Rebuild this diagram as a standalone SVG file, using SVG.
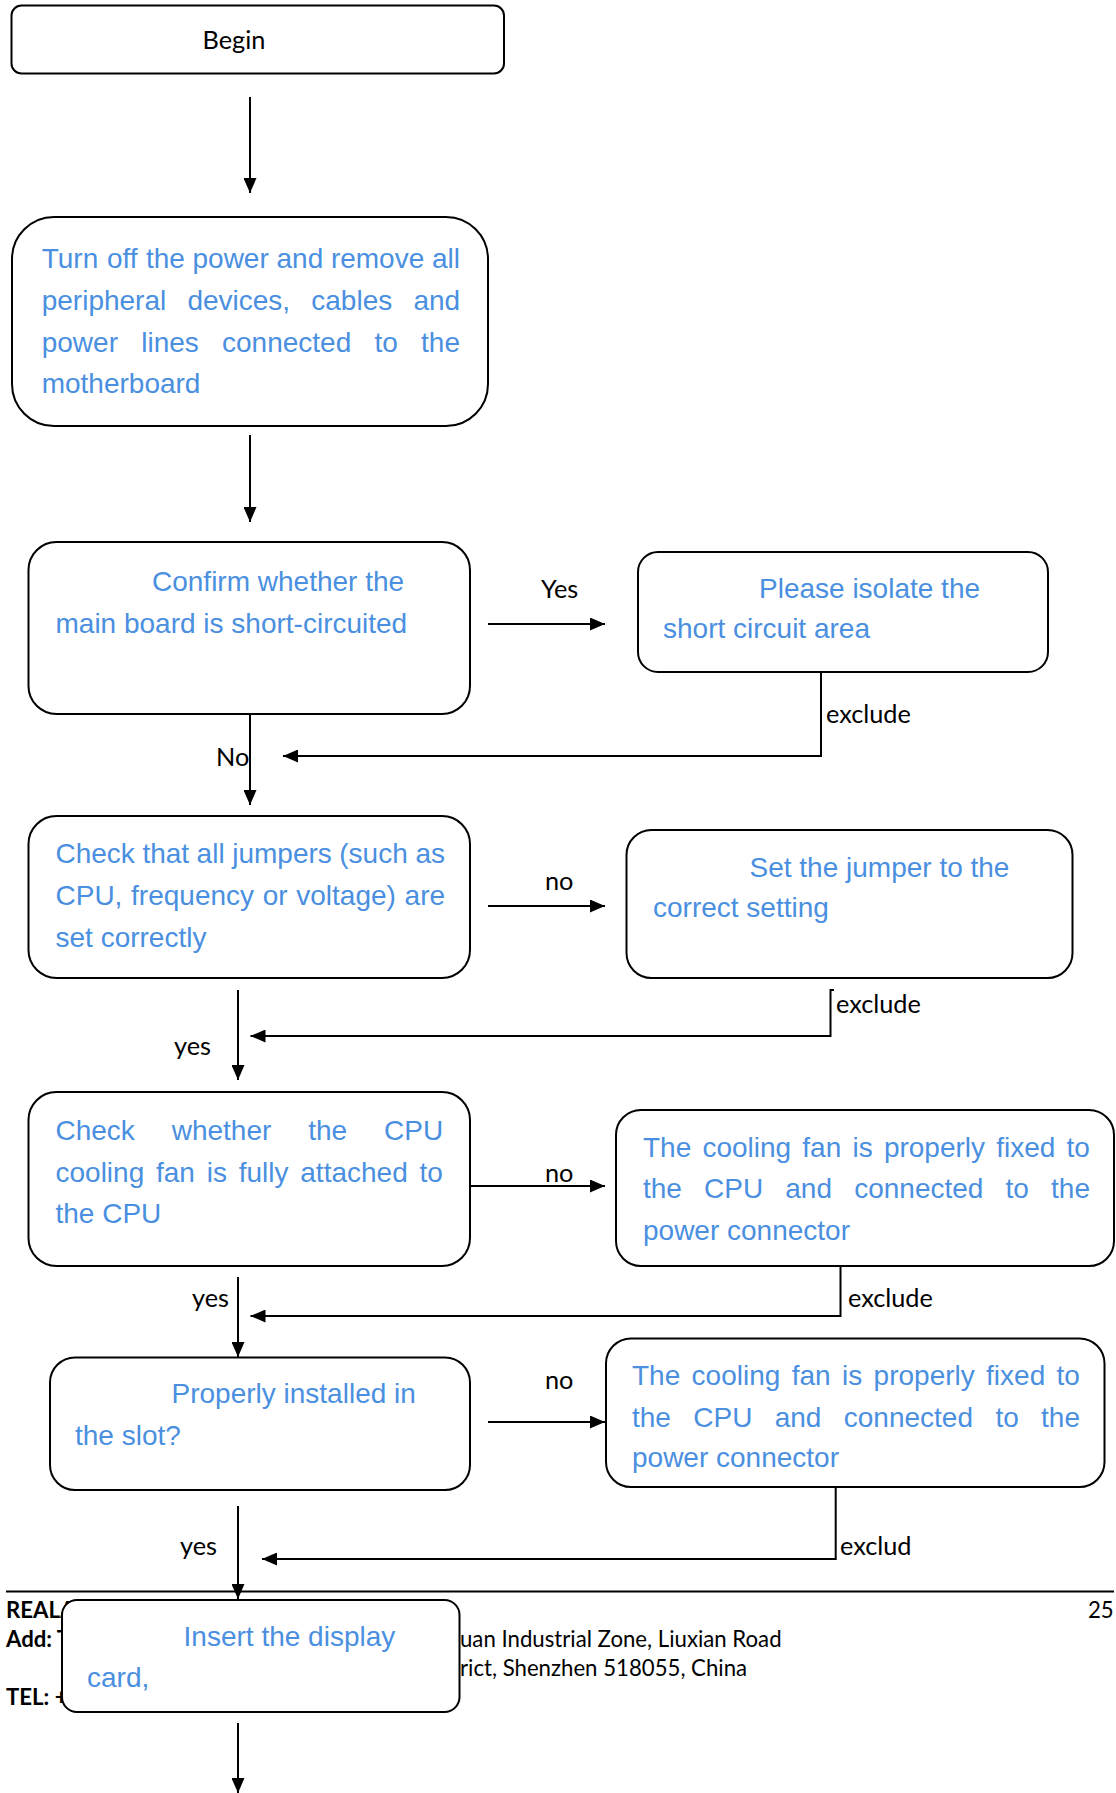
<svg xmlns="http://www.w3.org/2000/svg" width="1116" height="1793" viewBox="0 0 1116 1793">
<defs>
<marker id="ah" markerUnits="userSpaceOnUse" markerWidth="15" markerHeight="13" refX="15" refY="6.5" orient="auto">
<path d="M0,0 L15,6.5 L0,13 z" fill="#000"/>
</marker>
<style>
.box{fill:#fff;stroke:#000;stroke-width:2}
.bt{font-family:"Liberation Sans",Arial,sans-serif;font-size:28px;fill:#4A8FE0}
.lb{font-family:Lato,"Liberation Sans",sans-serif;font-size:25.3px;fill:#000}
.ft{font-family:Lato,"Liberation Sans",sans-serif;font-size:22.2px;fill:#000}
.ftb{font-family:Lato,"Liberation Sans",sans-serif;font-size:22.2px;font-weight:bold;fill:#000}
.cn{fill:none;stroke:#000;stroke-width:2}
</style>
</defs>
<rect width="1116" height="1793" fill="#fff"/>

<g id="footer">
<line x1="6" y1="1591.5" x2="1114" y2="1591.5" stroke="#000" stroke-width="2"/>
<text class="ftb" x="6" y="1618">REALA</text>
<text class="ft" x="1088" y="1618">25</text>
<text class="ftb" x="6" y="1647">Add: T</text>
<text class="ft" x="460" y="1647">uan Industrial Zone, Liuxian Road</text>
<text class="ft" x="460" y="1676">rict, Shenzhen 518055, China</text>
<text class="ftb" x="6" y="1705">TEL: +</text>
</g>

<g id="connectors">
<line class="cn" x1="250" y1="97" x2="250" y2="193" marker-end="url(#ah)"/>
<line class="cn" x1="250" y1="435" x2="250" y2="522" marker-end="url(#ah)"/>
<line class="cn" x1="488" y1="624" x2="605" y2="624" marker-end="url(#ah)"/>
<polyline class="cn" points="821,672 821,756 283,756" marker-end="url(#ah)"/>
<line class="cn" x1="250" y1="714" x2="250" y2="805" marker-end="url(#ah)"/>
<line class="cn" x1="488" y1="906" x2="605" y2="906" marker-end="url(#ah)"/>
<polyline class="cn" points="834,990 830.5,990 830.5,1036 250.5,1036" marker-end="url(#ah)"/>
<line class="cn" x1="238" y1="990" x2="238" y2="1080" marker-end="url(#ah)"/>
<line class="cn" x1="470" y1="1186" x2="605" y2="1186" marker-end="url(#ah)"/>
<polyline class="cn" points="840.5,1266 840.5,1316 250.5,1316" marker-end="url(#ah)"/>
<line class="cn" x1="238" y1="1277" x2="238" y2="1357" marker-end="url(#ah)"/>
<line class="cn" x1="488" y1="1422" x2="605" y2="1422" marker-end="url(#ah)"/>
<polyline class="cn" points="835.7,1488 835.7,1559 262,1559" marker-end="url(#ah)"/>
<line class="cn" x1="238" y1="1506" x2="238" y2="1599" marker-end="url(#ah)"/>
<line class="cn" x1="238" y1="1723" x2="238" y2="1793" marker-end="url(#ah)"/>
<text class="lb" x="541" y="598">Yes</text>
<text class="lb" x="826" y="723">exclude</text>
<text class="lb" x="216" y="766">No</text>
<text class="lb" x="545" y="890">no</text>
<text class="lb" x="836" y="1013">exclude</text>
<text class="lb" x="174" y="1055">yes</text>
<text class="lb" x="545" y="1182">no</text>
<text class="lb" x="848" y="1307">exclude</text>
<text class="lb" x="192" y="1307">yes</text>
<text class="lb" x="545" y="1389">no</text>
<text class="lb" x="840" y="1555">exclud</text>
<text class="lb" x="180" y="1555">yes</text>
</g>

<g id="begin">
<rect class="box" x="11.5" y="5.5" width="492.5" height="68" rx="10"/>
<text class="lb" x="234" y="49" text-anchor="middle">Begin</text>
</g>

<g id="power-off">
<rect class="box" x="12" y="217" width="476" height="209" rx="42"/>
<text class="bt" y="268"><tspan x="41.7">Turn</tspan><tspan x="107">off</tspan><tspan x="145.9">the</tspan><tspan x="192.5">power</tspan><tspan x="276.5">and</tspan><tspan x="330.9">remove</tspan><tspan x="432">all</tspan></text>
<text class="bt" y="310"><tspan x="41.7">peripheral</tspan><tspan x="187.4">devices,</tspan><tspan x="311.3">cables</tspan><tspan x="413.4">and</tspan></text>
<text class="bt" y="352"><tspan x="41.7">power</tspan><tspan x="141.2">lines</tspan><tspan x="222">connected</tspan><tspan x="374.5">to</tspan><tspan x="421.1">the</tspan></text>
<text class="bt" x="41.7" y="393">motherboard</text>
</g>

<g id="short-circuit">
<rect class="box" x="28.5" y="542" width="441.5" height="172" rx="28"/>
<text class="bt" x="152" y="591">Confirm whether the</text>
<text class="bt" x="55.5" y="633">main board is short-circuited</text>
</g>

<g id="isolate">
<rect class="box" x="638" y="552" width="410" height="120" rx="20"/>
<text class="bt" x="759" y="598">Please isolate the</text>
<text class="bt" x="663" y="638">short circuit area</text>
</g>

<g id="jumpers">
<rect class="box" x="28.5" y="816" width="441.5" height="162" rx="28"/>
<text class="bt" y="863"><tspan x="55.5">Check</tspan><tspan x="142.4">that</tspan><tspan x="196.6">all</tspan><tspan x="232.2">jumpers</tspan><tspan x="339.3">(such</tspan><tspan x="415.4">as</tspan></text>
<text class="bt" y="905"><tspan x="55.5">CPU,</tspan><tspan x="131.1">frequency</tspan><tspan x="262.7">or</tspan><tspan x="296.3">voltage)</tspan><tspan x="404.6">are</tspan></text>
<text class="bt" x="55.5" y="947">set correctly</text>
</g>

<g id="set-jumper">
<rect class="box" x="626.5" y="830" width="446" height="148" rx="25"/>
<text class="bt" x="749.5" y="877">Set the jumper to the</text>
<text class="bt" x="653" y="917">correct setting</text>
</g>

<g id="cpu-fan">
<rect class="box" x="28.5" y="1092" width="441.5" height="174" rx="28"/>
<text class="bt" y="1140"><tspan x="55.5">Check</tspan><tspan x="171.7">whether</tspan><tspan x="308.2">the</tspan><tspan x="384">CPU</tspan></text>
<text class="bt" y="1182"><tspan x="55.5">cooling</tspan><tspan x="156">fan</tspan><tspan x="206.7">is</tspan><tspan x="238.7">fully</tspan><tspan x="300.3">attached</tspan><tspan x="419.5">to</tspan></text>
<text class="bt" x="55.5" y="1223">the CPU</text>
</g>

<g id="fan-fix-1">
<rect class="box" x="616" y="1110" width="498" height="156" rx="25"/>
<text class="bt" y="1157"><tspan x="643">The</tspan><tspan x="702.4">cooling</tspan><tspan x="802.3">fan</tspan><tspan x="852.5">is</tspan><tspan x="883.9">properly</tspan><tspan x="996.2">fixed</tspan><tspan x="1066.5">to</tspan></text>
<text class="bt" y="1198"><tspan x="643">the</tspan><tspan x="704.1">CPU</tspan><tspan x="785.3">and</tspan><tspan x="854.2">connected</tspan><tspan x="1005.5">to</tspan><tspan x="1051.1">the</tspan></text>
<text class="bt" x="643" y="1240">power connector</text>
</g>

<g id="slot">
<rect class="box" x="50" y="1357.5" width="420" height="132.5" rx="25"/>
<text class="bt" x="171.5" y="1403">Properly installed in</text>
<text class="bt" x="75" y="1445">the slot?</text>
</g>

<g id="fan-fix-2">
<rect class="box" x="606" y="1338.5" width="498.5" height="148.5" rx="25"/>
<text class="bt" y="1385"><tspan x="632">The</tspan><tspan x="691.6">cooling</tspan><tspan x="791.7">fan</tspan><tspan x="842">is</tspan><tspan x="873.6">properly</tspan><tspan x="986.1">fixed</tspan><tspan x="1056.6">to</tspan></text>
<text class="bt" y="1427"><tspan x="632">the</tspan><tspan x="693.3">CPU</tspan><tspan x="774.7">and</tspan><tspan x="843.8">connected</tspan><tspan x="995.4">to</tspan><tspan x="1041.1">the</tspan></text>
<text class="bt" x="632" y="1467">power connector</text>
</g>

<g id="display-card">
<rect class="box" x="62" y="1600" width="397.5" height="112" rx="15"/>
<text class="bt" x="183.6" y="1646">Insert the display</text>
<text class="bt" x="87" y="1687">card,</text>
</g>
</svg>
